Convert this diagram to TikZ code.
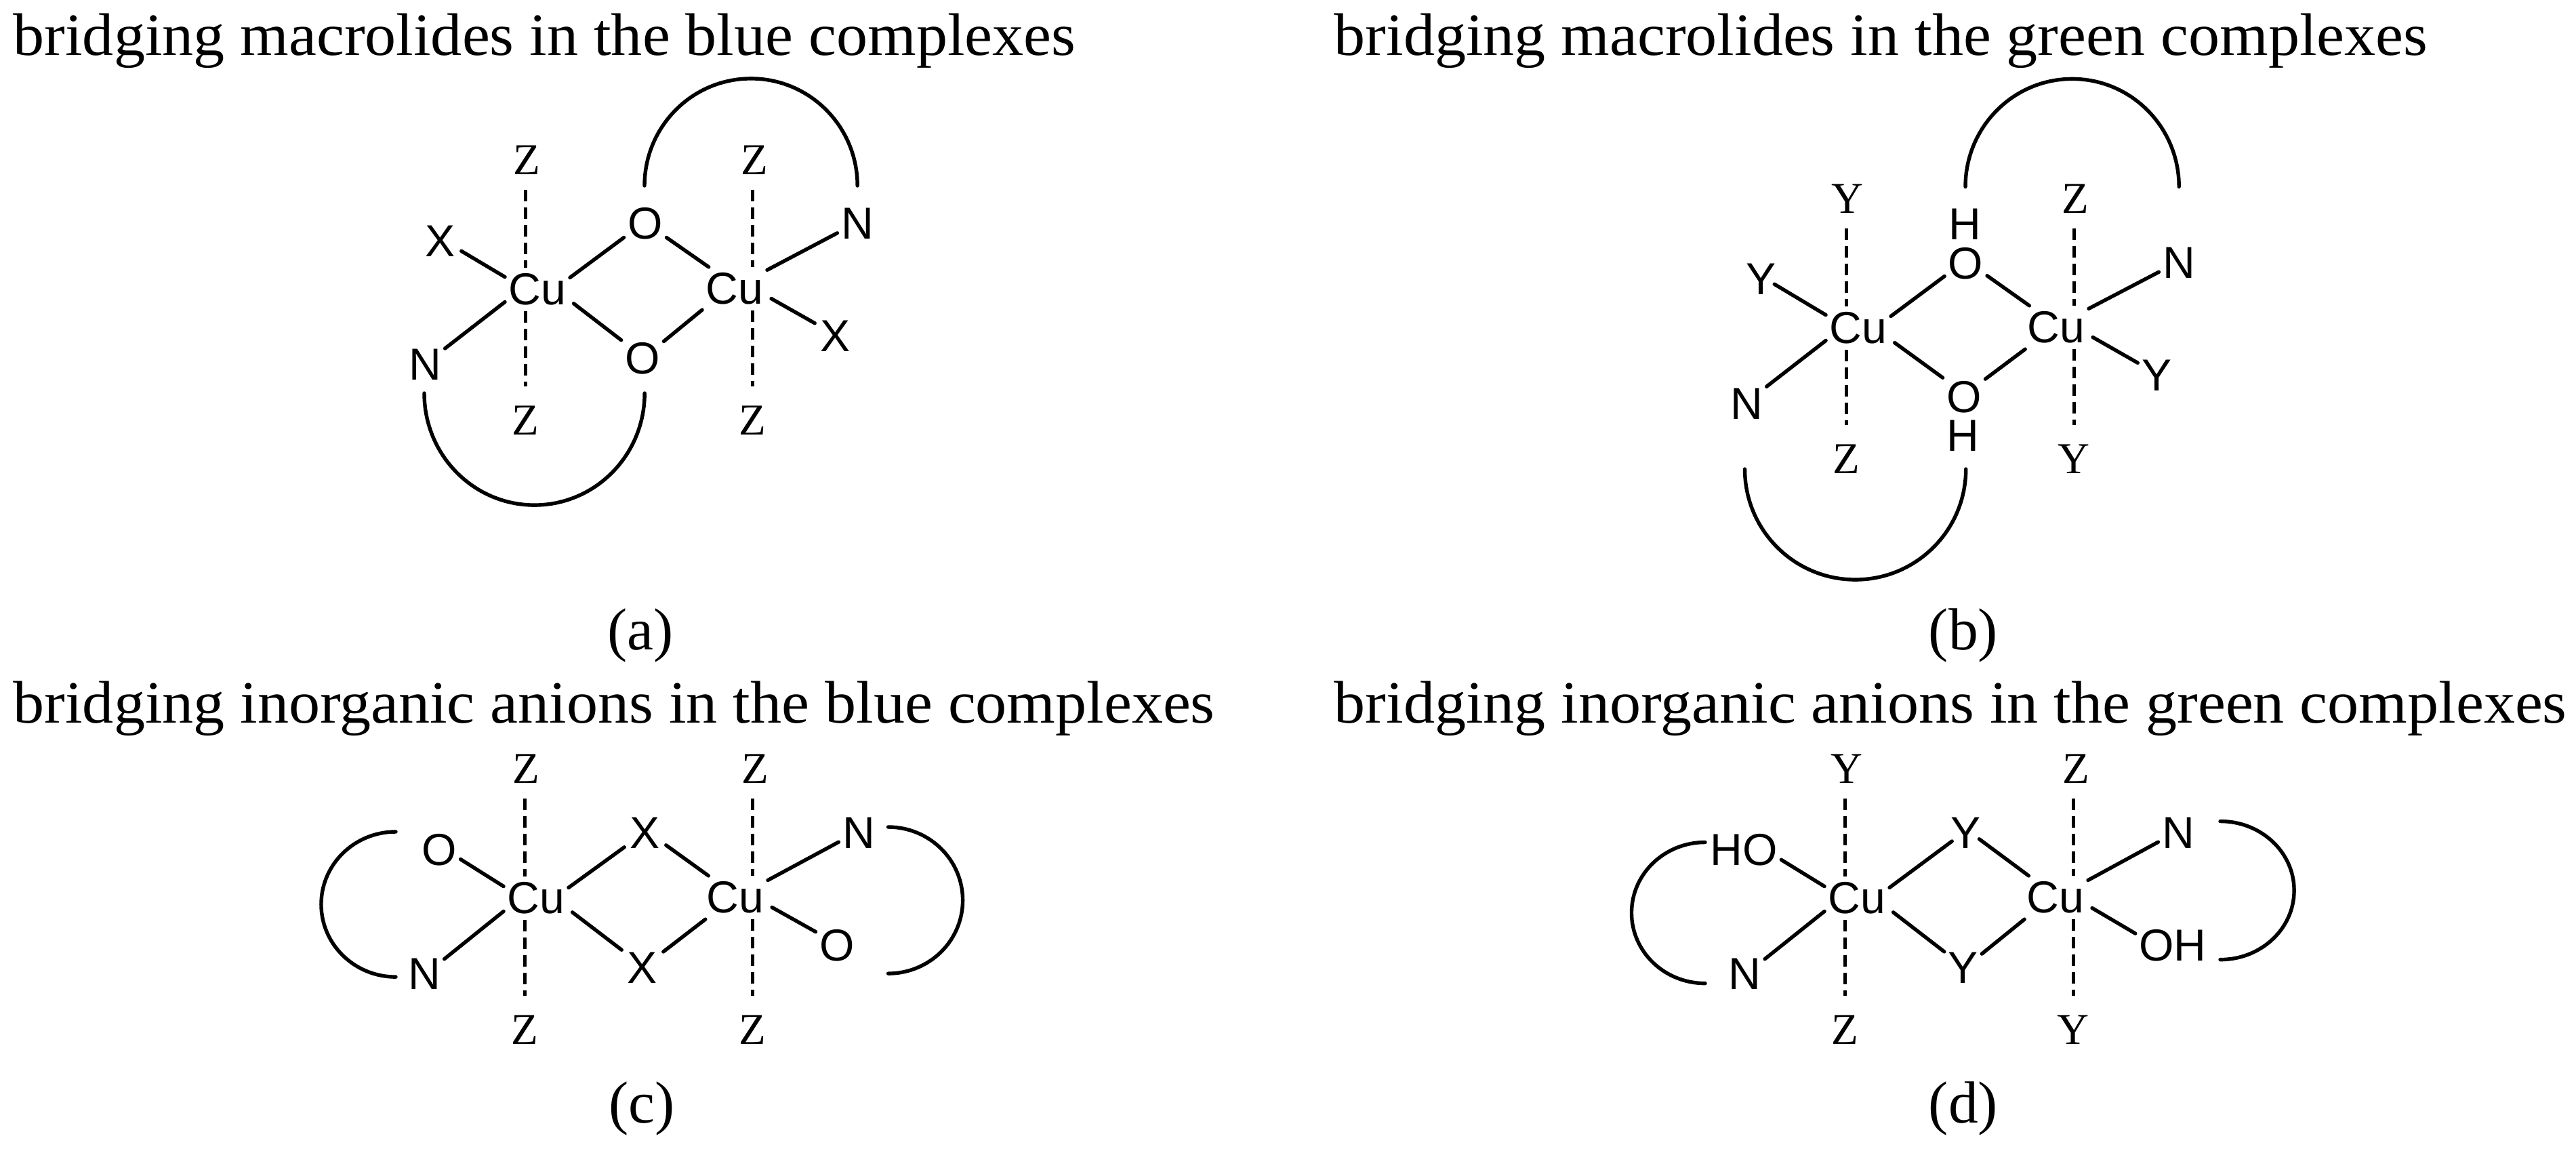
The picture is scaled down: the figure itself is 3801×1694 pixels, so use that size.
\documentclass[tikz,border=0pt]{standalone}
\usepackage{fontspec}
\setmainfont{Liberation Serif}
\setsansfont{Liberation Sans}
\newfontfamily\headfont[FakeStretch=1.039]{Liberation Serif}
\tikzset{
  bond/.style={draw=black,line width=0.054cm,line cap=round},
  offcu/.style={shorten <=0.07cm},
  dashbond/.style={draw=black,line width=0.05cm,dash pattern=on 0.17cm off 0.09cm},
  lig/.style={font=\sffamily\fontsize{18.8}{20}\selectfont,inner xsep=0.05cm,inner ysep=0.08cm,anchor=center},
  wide/.style={inner xsep=0.08cm},
  tight/.style={inner ysep=0cm},
  serifup/.style={font=\fontsize{18.5}{20}\selectfont,inner xsep=0cm,inner ysep=0.22cm,anchor=center},
  serifdn/.style={font=\fontsize{18.5}{20}\selectfont,inner xsep=0cm,inner ysep=0.28cm,anchor=center},
  head/.style={font=\headfont\fontsize{25.2}{28}\selectfont,inner sep=0pt,anchor=base west},
  panellabel/.style={font=\fontsize{24.9}{28}\selectfont,inner sep=0pt,anchor=center}
}
\begin{document}
\begin{tikzpicture}[x=0.01cm,y=-0.01cm]
\useasboundingbox (0,0) rectangle (3801,1694);
% ---------- headings and captions
\node[head] (ha) at (19,82) {bridging macrolides in the blue complexes};
\node[head] (hb) at (1968,82) {bridging macrolides in the green complexes};
\node[head] (hc) at (19,1066) {bridging inorganic anions in the blue complexes};
\node[head] (hd) at (1968,1066) {bridging inorganic anions in the green complexes};
\node[panellabel] (ca) at (945,937) {(a)};
\node[panellabel] (cb) at (2897,937) {(b)};
\node[panellabel] (cc) at (947,1635) {(c)};
\node[panellabel] (cd) at (2897,1635) {(d)};
% ---------- panel a
\node[lig] (acu1) at (793,427) {Cu};
\node[lig] (acu2) at (1084,426) {Cu};
\node[lig,wide] (axl) at (650,356) {X};
\node[lig,wide] (axr) at (1233,496) {X};
\node[lig] (anl) at (627,538) {N};
\node[lig] (anr) at (1265,330) {N};
\node[lig] (aot) at (952,330) {O};
\node[lig] (aob) at (948,529) {O};
\node[serifup] (azt1) at (777,236) {Z};
\node[serifup] (azt2) at (1113,236) {Z};
\node[serifdn] (azb1) at (775,620) {Z};
\node[serifdn] (azb2) at (1110,620) {Z};
\draw[bond] (acu1.159) -- (axl.-25);
\draw[bond] (acu1.201) -- (anl.39);
\draw[bond] (acu1.20) -- (aot.213);
\draw[bond,offcu] (acu1.-19) -- (aob.139);
\draw[bond] (acu2.140) -- (aot.-33);
\draw[bond] (acu2.213) -- (aob.39);
\draw[bond] (acu2.30) -- (anr.205);
\draw[bond,offcu] (acu2.-13) -- (axr.148);
\draw[dashbond] (azb1 |- azt1.south) -- (azb1 |- acu1.north);
\draw[dashbond] (azb1 |- acu1.south) -- (azb1.north);
\draw[dashbond] (azb2 |- azt2.south) -- (azb2 |- acu2.north);
\draw[dashbond] (azb2 |- acu2.south) -- (azb2.north);
\coordinate (aa1) at (951,274);
\coordinate (aa2) at (626,580);
\draw[bond] (aa1) arc[start angle=180,end angle=0,x radius=1.57cm,y radius=1.58cm];
\draw[bond] (aa2) arc[start angle=180,end angle=360,x radius=1.625cm,y radius=1.65cm];
% ---------- panel b
\node[lig] (bcu1) at (2742,484) {Cu};
\node[lig] (bcu2) at (3034,483) {Cu};
\node[lig] (byl) at (2599,412) {Y};
\node[lig] (byr) at (3182,554) {Y};
\node[lig] (bnl) at (2577,596) {N};
\node[lig] (bnr) at (3215,387.5) {N};
\node[lig] (bot) at (2900.6,388.6) {O};
\node[lig] (bob) at (2898,585.5) {O};
\node[lig,tight] (bht) at (2899,331) {H};
\node[lig,tight] (bhb) at (2896.5,643) {H};
\node[serifup] (byt) at (2726,293) {Y};
\node[serifup] (bzt) at (3062.5,293) {Z};
\node[serifdn] (bzb) at (2724,677) {Z};
\node[serifdn] (byb) at (3060,677) {Y};
\draw[bond,shorten >=-0.1cm] (bcu1.158) -- (byl.-24);
\draw[bond] (bcu1.201) -- (bnl.41);
\draw[bond] (bcu1.20) -- (bot.211);
\draw[bond,offcu] (bcu1.-20) -- (bob.138);
\draw[bond] (bcu2.141) -- (bot.-30);
\draw[bond] (bcu2.215) -- (bob.40);
\draw[bond] (bcu2.30) -- (bnr.205);
\draw[bond,offcu] (bcu2.-13) -- (byr.146);
\draw[dashbond] (bzb |- byt.south) -- (bzb |- bcu1.north);
\draw[dashbond] (bzb |- bcu1.south) -- (bzb.north);
\draw[dashbond] (byb |- bzt.south) -- (byb |- bcu2.north);
\draw[dashbond] (byb |- bcu2.south) -- (byb.north);
\coordinate (ba1) at (2900,275.5);
\coordinate (ba2) at (2574.5,692);
\draw[bond] (ba1) arc[start angle=180,end angle=0,x radius=1.575cm,y radius=1.59cm];
\draw[bond] (ba2) arc[start angle=180,end angle=360,x radius=1.63cm,y radius=1.63cm];
% ---------- panel c
\node[lig] (ccu1) at (791,1325) {Cu};
\node[lig] (ccu2) at (1085,1324) {Cu};
\node[lig] (col) at (648,1253.5) {O};
\node[lig] (cor) at (1235,1395) {O};
\node[lig] (cnl) at (626,1437) {N};
\node[lig] (cnr) at (1267,1229) {N};
\node[lig,wide] (cxt) at (952,1229) {X};
\node[lig,wide] (cxb) at (948,1428) {X};
\node[serifup] (czt1) at (776,1134) {Z};
\node[serifup] (czt2) at (1114,1134) {Z};
\node[serifdn] (czb1) at (774,1519) {Z};
\node[serifdn] (czb2) at (1110,1519) {Z};
\draw[bond] (ccu1.160) -- (col.-24);
\draw[bond] (ccu1.202) -- (cnl.37);
\draw[bond] (ccu1.18) -- (cxt.214);
\draw[bond,offcu] (ccu1.-19) -- (cxb.139);
\draw[bond] (ccu2.141) -- (cxt.-30);
\draw[bond] (ccu2.216) -- (cxb.38);
\draw[bond] (ccu2.28) -- (cnr.204);
\draw[bond,offcu] (ccu2.-13) -- (cor.147);
\draw[dashbond] (czb1 |- czt1.south) -- (czb1 |- ccu1.north);
\draw[dashbond] (czb1 |- ccu1.south) -- (czb1.north);
\draw[dashbond] (czb2 |- czt2.south) -- (czb2 |- ccu2.north);
\draw[dashbond] (czb2 |- ccu2.south) -- (czb2.north);
\coordinate (ca1) at (584,1227);
\coordinate (ca2) at (1310.5,1220);
\draw[bond] (ca1) arc[start angle=90,end angle=270,x radius=1.10cm,y radius=1.07cm];
\draw[bond] (ca2) arc[start angle=90,end angle=-90,x radius=1.10cm,y radius=1.08cm];
% ---------- panel d
\node[lig] (dcu1) at (2740,1325) {Cu};
\node[lig] (dcu2) at (3033,1324) {Cu};
\node[lig] (dho) at (2573,1253.5) {HO};
\node[lig] (doh) at (3206,1395) {OH};
\node[lig] (dnl) at (2574.5,1437) {N};
\node[lig] (dnr) at (3214,1229) {N};
\node[lig] (dyt) at (2900.7,1229) {Y};
\node[lig] (dyb) at (2896.5,1428) {Y};
\node[serifup] (dyt1) at (2725,1134) {Y};
\node[serifup] (dzt2) at (3063,1134) {Z};
\node[serifdn] (dzb1) at (2722,1519) {Z};
\node[serifdn] (dyb2) at (3059,1519) {Y};
\draw[bond] (dcu1.160) -- (dho.-15);
\draw[bond] (dcu1.202) -- (dnl.37);
\draw[bond,shorten >=-0.09cm] (dcu1.18) -- (dyt.212);
\draw[bond,offcu] (dcu1.-19) -- (dyb.139);
\draw[bond,shorten >=-0.1cm] (dcu2.141) -- (dyt.-28);
\draw[bond] (dcu2.215) -- (dyb.37);
\draw[bond] (dcu2.28) -- (dnr.204);
\draw[bond,offcu] (dcu2.-14) -- (doh.162);
\draw[dashbond] (dzb1 |- dyt1.south) -- (dzb1 |- dcu1.north);
\draw[dashbond] (dzb1 |- dcu1.south) -- (dzb1.north);
\draw[dashbond] (dyb2 |- dzt2.south) -- (dyb2 |- dcu2.north);
\draw[dashbond] (dyb2 |- dcu2.south) -- (dyb2.north);
\coordinate (da1) at (2516,1242.5);
\coordinate (da2) at (3276,1211.5);
\draw[bond] (da1) arc[start angle=90,end angle=270,x radius=1.085cm,y radius=1.04cm];
\draw[bond] (da2) arc[start angle=90,end angle=-90,x radius=1.09cm,y radius=1.02cm];
\end{tikzpicture}
\end{document}
